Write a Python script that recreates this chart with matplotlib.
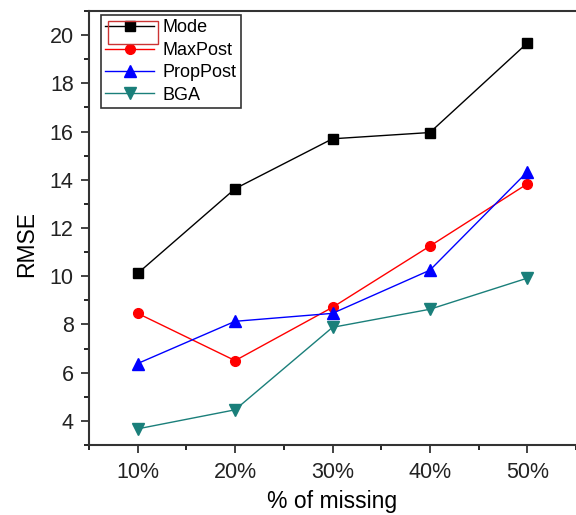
import matplotlib.pyplot as plt
from matplotlib.ticker import MultipleLocator
from matplotlib.patches import Rectangle

plt.rcParams['font.family'] = ['Liberation Sans', 'DejaVu Sans']

categories = ['10%', '20%', '30%', '40%', '50%']
mode = [10.12, 13.63, 15.7, 15.96, 19.67]
maxpost = [8.46, 6.5, 8.71, 11.25, 13.83]
proppost = [6.38, 8.13, 8.46, 10.25, 14.33]
bga = [3.67, 4.46, 7.88, 8.63, 9.92]

x = list(range(1, len(categories) + 1))

fig = plt.figure(figsize=(5.76, 5.15), dpi=100)
ax = fig.add_axes([89 / 576, 1 - 445 / 515, 487 / 576, 434 / 515])

ax.plot(x, mode, 'ks-', lw=1, ms=7, label='Mode')
ax.plot(x, maxpost, color='red', marker='o', lw=1, ms=7, label='MaxPost')
ax.plot(x, proppost, color='blue', marker='^', lw=1, ms=8, label='PropPost')
ax.plot(x, bga, color='#1a7f7a', marker='v', lw=1, ms=8, label='BGA')

ax.set_xlim(0.5, 5.5)
ax.set_ylim(3, 21)
ax.set_xticks(x)
ax.set_xticklabels(categories)
ax.xaxis.set_minor_locator(MultipleLocator(0.5))
ax.yaxis.set_major_locator(MultipleLocator(2))
ax.yaxis.set_minor_locator(MultipleLocator(1))
ax.tick_params(which='major', direction='out', length=6, width=1.2, labelsize=15.5, colors='#222222')
ax.tick_params(which='minor', direction='out', length=3.5, width=1.2)
ax.tick_params(axis='x', pad=6)
ax.tick_params(axis='y', pad=5)
ax.spines['right'].set_visible(False)
for s in ['left', 'bottom', 'top']:
    ax.spines[s].set_linewidth(1.5)
    ax.spines[s].set_color('#333333')

ax.set_xlabel('% of missing', fontsize=16.5, labelpad=5)
ax.set_ylabel('RMSE', fontsize=16.5)
ax.yaxis.set_label_coords(-0.105, 0.463)

leg = ax.legend(loc='upper left', bbox_to_anchor=(0.0246, 0.991), fontsize=13,
                frameon=True, fancybox=False, edgecolor='black', handlelength=2.7,
                borderpad=0.25, labelspacing=0.3, handletextpad=0.45, borderaxespad=0)
leg.get_frame().set_linewidth(1.2)

# red selection box around the first legend handle
fig.patches.append(Rectangle((108 / 576, 1 - 44 / 515), 50 / 576, 23 / 515,
                             transform=fig.transFigure, fill=False, ec='#cc3333', lw=1))

fig.savefig('out.png', dpi=100)
